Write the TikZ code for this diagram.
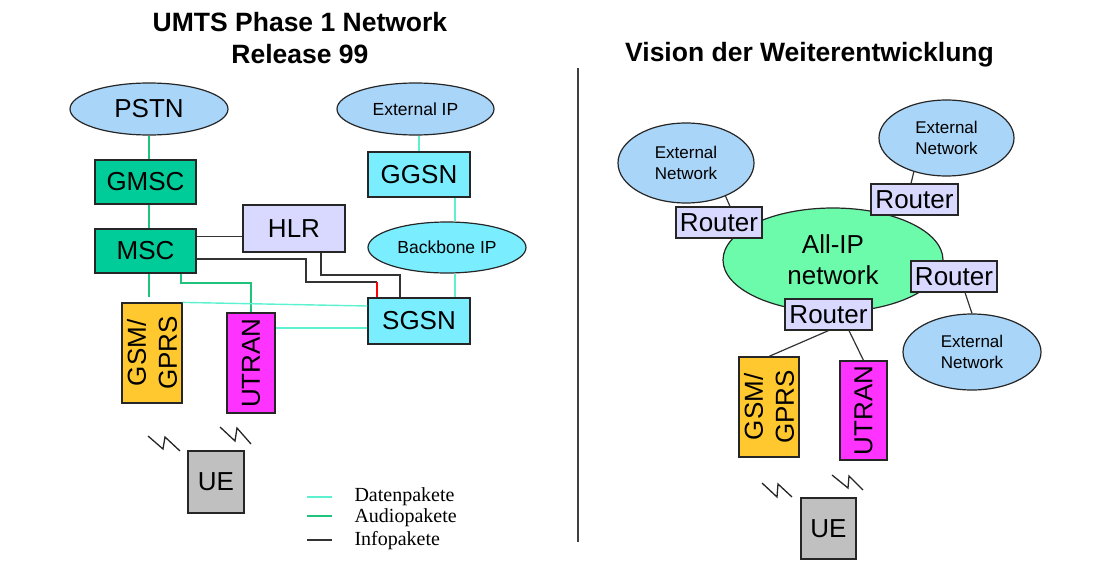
\documentclass[tikz,border=0pt]{standalone}
\usepackage{fontspec}
\setmainfont{Liberation Sans}
\newfontfamily\legendfont{Liberation Serif}
\usetikzlibrary{shapes.geometric}
\definecolor{cloudblue}{HTML}{A9D5F9}
\definecolor{mscgreen}{HTML}{00CC99}
\definecolor{lavender}{HTML}{D9D9FF}
\definecolor{cyanbox}{HTML}{7AEEFF}
\definecolor{orangebox}{HTML}{FFC82E}
\definecolor{magentabox}{HTML}{FF33FF}
\definecolor{uegray}{HTML}{C0C0C0}
\definecolor{allipgreen}{HTML}{6CFBAA}
\definecolor{datacol}{HTML}{5CF2CF}
\definecolor{audiocol}{HTML}{1FC47C}
\definecolor{infocol}{HTML}{333333}
\begin{document}
\begin{tikzpicture}[x=1pt,y=-1pt,
  bigtext/.style={font=\fontsize{26}{31}\selectfont},
  smalltext/.style={font=\fontsize{17.5}{21}\selectfont},
  boxnode/.style={draw=black!85, line width=1.2pt, inner sep=0pt, bigtext, align=center},
  cloud/.style={ellipse, draw=black!85, line width=1.2pt, inner sep=0pt, fill=cloudblue, smalltext, align=center},
  rotbox/.style={boxnode, rotate=90},
  datalink/.style={datacol, line width=1.4pt},
  audiolink/.style={audiocol, line width=1.4pt},
  infolink/.style={infocol, line width=1.4pt},
  netlink/.style={infocol, line width=1.2pt},
  boltline/.style={black!85, line width=1.3pt},
  titletext/.style={font=\bfseries\fontsize{26.5}{32}\selectfont, align=center},
  legendtext/.style={anchor=west, font=\legendfont\fontsize{20}{22}\selectfont}
]
\useasboundingbox (0,0) rectangle (1108,578);

% ---------- titles ----------
\node[titletext] (title1) at (300,38) {UMTS Phase 1 Network\\Release 99};
\node[titletext, anchor=base] (title2) at (809.5,62) {Vision der Weiterentwicklung};
\draw[black!75, line width=2pt] (578,68) -- (578,542);

% ---------- left: Release 99 ----------
\node[cloud, minimum width=158, minimum height=52, bigtext] (pstn) at (149,109) {PSTN};
\node[cloud, minimum width=157, minimum height=52] (extip) at (415.5,109) {External IP};
\node[boxnode, fill=mscgreen, minimum width=101, minimum height=44] (gmsc) at (145.5,182) {GMSC};
\node[boxnode, fill=mscgreen, minimum width=101, minimum height=44] (msc) at (145.5,251) {MSC};
\node[boxnode, fill=lavender, minimum width=102, minimum height=47] (hlr) at (294,228.5) {HLR};
\node[boxnode, fill=cyanbox, minimum width=102, minimum height=45] (ggsn) at (419,174.5) {GGSN};
\node[cloud, fill=cyanbox, minimum width=158, minimum height=51] (backbone) at (447,247.5) {Backbone IP};
\node[boxnode, fill=cyanbox, minimum width=102, minimum height=46] (sgsn) at (419,321) {SGSN};
\node[rotbox, fill=orangebox, minimum width=100, minimum height=60] (gsm) at (152,353) {GSM/\\GPRS};
\node[rotbox, fill=magentabox, minimum width=100, minimum height=48] (utran) at (251,363) {UTRAN};
\node[boxnode, fill=uegray, minimum width=56, minimum height=62] (ue) at (216,482) {UE};

% connectors (left)
\draw[audiolink] (pstn.south) -- (pstn.south |- gmsc.north);
\draw[audiolink] (gmsc.south -| 149,0) -- (msc.north -| 149,0);
\draw[datalink] (ggsn.north) -- (ggsn.north |- extip.south);
\draw[datalink] (ggsn.south -| 455,0) -- (backbone.north -| 455,0);
\draw[datalink] (backbone.south -| 455,0) -- (sgsn.north -| 455,0);
\draw[infolink] (msc.east |- 0,236.5) -- (hlr.west |- 0,236.5);
\draw[infolink] (msc.east |- 0,259) -| (306,282) -- (377,282);
\draw[red, line width=1.4pt] (377,282) -- (sgsn.north -| 377,0);
\draw[infolink] (hlr.south -| 321,0) |- (400,275) -- (sgsn.north -| 400,0);
\draw[audiolink] (msc.south -| 181,0) -- (181,283) -| (utran.east);
\draw[audiolink] (msc.south -| 149,0) -- (149,297);
\draw[datalink] (gsm.south east) -- (sgsn.west |- 0,306);
\draw[datalink] (utran.south |- 0,328) -- (sgsn.west |- 0,328);

% radio symbols (left)
\draw[boltline] (148,436) -- ++(15,13) -- ++(2,-12) -- ++(15,14);
\draw[boltline] (220,427) -- ++(15,14) -- ++(2,-13) -- ++(14,16);

% legend
\node[legendtext] (legdata) at (351,497) {Datenpakete};
\node[legendtext] (legaudio) at (351,518) {Audiopakete};
\node[legendtext] (leginfo) at (351,541) {Infopakete};
\draw[datalink, line width=1.1pt] ([xshift=-44pt]legdata.west |- 0,497) -- ++(25,0);
\draw[audiolink, line width=1.3pt] ([xshift=-44pt]legaudio.west |- 0,516) -- ++(25,0);
\draw[infolink, line width=1.3pt] ([xshift=-44pt]leginfo.west |- 0,540) -- ++(25,0);

% ---------- right: vision ----------
\node[cloud, font=\fontsize{17}{21}\selectfont, minimum width=136, minimum height=80] (ext1) at (686,163) {External\\Network};
\node[cloud, font=\fontsize{17}{21}\selectfont, minimum width=135, minimum height=76] (ext2) at (946.5,138) {External\\Network};
\node[cloud, font=\fontsize{17}{21}\selectfont, minimum width=138, minimum height=76] (ext3) at (972,352) {External\\Network};
\node[ellipse, draw=black!85, line width=1.2pt, fill=allipgreen, inner sep=0pt, minimum width=220, minimum height=104, bigtext, align=center] (allip) at (833,260) {All-IP\\network};

\node[boxnode, fill=lavender, minimum width=86, minimum height=31] (r1) at (719,222.5) {Router};
\node[boxnode, fill=lavender, minimum width=87, minimum height=31] (r2) at (914.5,199.5) {Router};
\node[boxnode, fill=lavender, minimum width=86, minimum height=31] (r3) at (954,276.5) {Router};
\node[boxnode, fill=lavender, minimum width=87, minimum height=31] (r4) at (828.5,314.5) {Router};

\node[rotbox, fill=orangebox, minimum width=100, minimum height=60] (gsm2) at (769,407) {GSM/\\GPRS};
\node[rotbox, fill=magentabox, minimum width=99, minimum height=47] (utran2) at (863.5,410.5) {UTRAN};
\node[boxnode, fill=uegray, minimum width=55, minimum height=61] (ue2) at (828.5,528.5) {UE};

\draw[netlink] (ext1.-40) -- (r1.north -| 730,0);
\draw[netlink] (ext2.-134) -- (r2.north -| 911,0);
\draw[netlink] (r3.south -| 965,0) -- (ext3.north);
\draw[netlink] (r4.south) -- (gsm2.east);
\draw[netlink] (r4.south -| 849,0) -- (utran2.east);

% radio symbols (right)
\draw[boltline] (762,483) -- ++(15,14) -- ++(1,-13) -- ++(14,13);
\draw[boltline] (832,475) -- ++(16,13) -- ++(1,-12) -- ++(14,14);
\end{tikzpicture}
\end{document}
